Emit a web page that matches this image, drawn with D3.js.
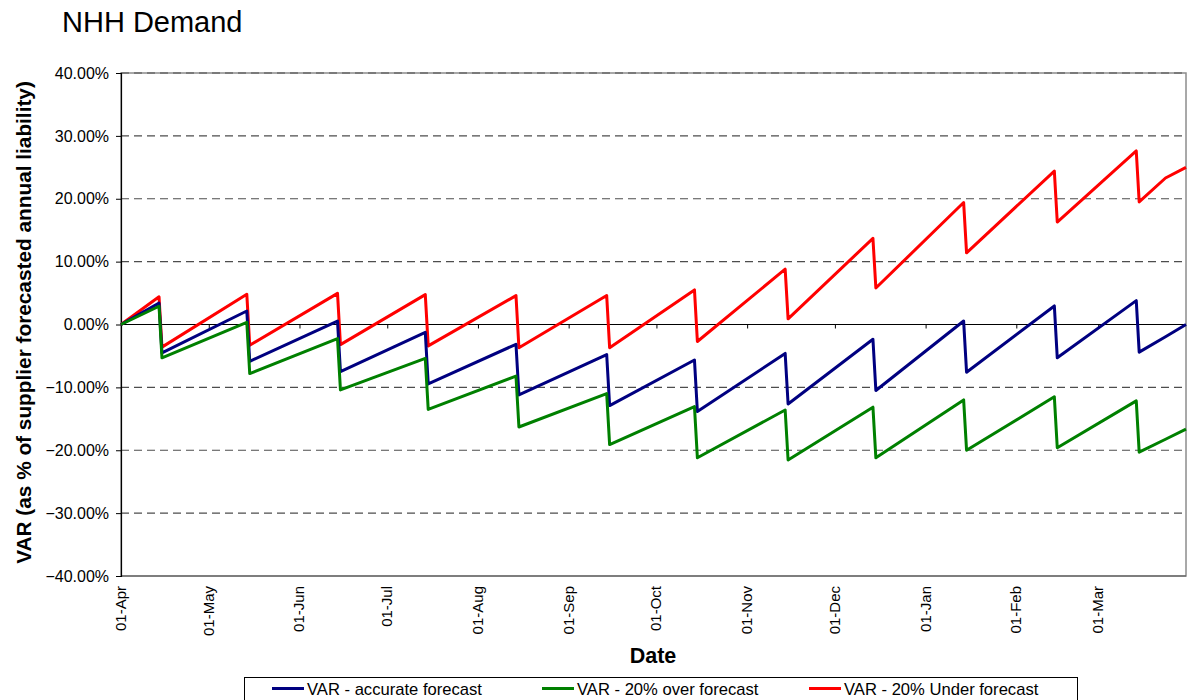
<!DOCTYPE html>
<html>
<head>
<meta charset="utf-8">
<script src="https://cdn.jsdelivr.net/npm/d3@7"></script>
<style>
  html, body { margin: 0; padding: 0; background: #fff; }
  svg { display: block; font-family: "Liberation Sans", Arial, Helvetica, sans-serif; }
</style>
</head>
<body>
<svg id="chart" width="1190" height="700"></svg>
<script>
// Daily VAR points: start of year, then the day before and the day of each monthly reset
const dates = [
  "2009-04-01",
  "2009-04-14", "2009-04-15",
  "2009-05-14", "2009-05-15",
  "2009-06-14", "2009-06-15",
  "2009-07-14", "2009-07-15",
  "2009-08-14", "2009-08-15",
  "2009-09-14", "2009-09-15",
  "2009-10-14", "2009-10-15",
  "2009-11-14", "2009-11-15",
  "2009-12-14", "2009-12-15",
  "2010-01-14", "2010-01-15",
  "2010-02-14", "2010-02-15",
  "2010-03-14", "2010-03-15",
  "2010-03-24", "2010-03-31"
];

// VAR as % of supplier forecasted annual liability
const accurateForecast = [
  0,
  3.4, -4.5,
  2.15, -5.85,
  0.55, -7.5,
  -1.25, -9.45,
  -3.15, -11.2,
  -4.8, -12.9,
  -5.65, -13.85,
  -4.6, -12.65,
  -2.35, -10.5,
  0.55, -7.6,
  2.95, -5.3,
  3.8, -4.4,
  -1.95, 0.0
];

const overForecast = [
  0,
  2.9, -5.3,
  0.35, -7.8,
  -2.25, -10.4,
  -5.4, -13.5,
  -8.2, -16.3,
  -11.0, -19.1,
  -13.05, -21.2,
  -13.6, -21.55,
  -13.15, -21.2,
  -12.0, -20.0,
  -11.5, -19.6,
  -12.15, -20.3,
  -18.25, -16.65
];

const underForecast = [
  0,
  4.4, -3.6,
  4.8, -3.3,
  4.95, -3.2,
  4.75, -3.4,
  4.6, -3.7,
  4.6, -3.7,
  5.5, -2.7,
  8.8, 0.9,
  13.7, 5.8,
  19.4, 11.4,
  24.4, 16.3,
  27.6, 19.5,
  23.3, 25.0
];

const seriesNames = ["VAR - accurate forecast", "VAR - 20% over forecast", "VAR - 20% Under forecast"];
const seriesColors = ["#000080", "#008000", "#ff0000"];
const yTicks = [40, 30, 20, 10, 0, -10, -20, -30, -40];
const monthTicks = [
  "2009-04-01", "2009-05-01", "2009-06-01", "2009-07-01", "2009-08-01", "2009-09-01",
  "2009-10-01", "2009-11-01", "2009-12-01", "2010-01-01", "2010-02-01", "2010-03-01"
];
const domainStart = "2009-04-01";
const domainEnd = "2010-03-31";

const parse = d3.utcParse("%Y-%m-%d");
const fmtTick = d3.utcFormat("%d-%b");

const plot = { left: 121, right: 1186, top: 73, bottom: 576 };

const svg = d3.select("#chart");

const x = d3.scaleUtc()
  .domain([parse(domainStart), parse(domainEnd)])
  .range([plot.left, plot.right]);

const y = d3.scaleLinear()
  .domain([-40, 40])
  .range([plot.bottom, plot.top]);

// Title
svg.append("text")
  .attr("x", 62).attr("y", 32)
  .attr("font-size", 29)
  .attr("fill", "#000")
  .text("NHH Demand");

// Plot area frame
svg.append("rect")
  .attr("x", plot.left).attr("y", plot.top)
  .attr("width", plot.right - plot.left).attr("height", plot.bottom - plot.top)
  .attr("fill", "none").attr("stroke", "#8c8c8c").attr("stroke-width", 1.5);

// Dashed gridlines
svg.append("g")
  .selectAll("line")
  .data(yTicks.filter(d => d !== 0 && d !== -40))
  .join("line")
  .attr("x1", plot.left).attr("x2", plot.right)
  .attr("y1", d => y(d)).attr("y2", d => y(d))
  .attr("stroke", "#4d4d4d").attr("stroke-width", 1.2)
  .attr("stroke-dasharray", "8,5");

// Bottom edge
svg.append("line")
  .attr("x1", plot.left).attr("x2", plot.right)
  .attr("y1", y(-40)).attr("y2", y(-40))
  .attr("stroke", "#555").attr("stroke-width", 1.2);

// Y axis
const yAxis = d3.axisLeft(y)
  .tickValues(yTicks)
  .tickSize(5)
  .tickPadding(7)
  .tickFormat(d => d3.format(".2f")(d) + "%");

const gy = svg.append("g")
  .attr("transform", `translate(${plot.left},0)`)
  .call(yAxis);
gy.select(".domain").attr("stroke", "#000").attr("stroke-width", 1.2);
gy.selectAll(".tick line").attr("stroke", "#000");
gy.selectAll(".tick text")
  .attr("font-size", 16)
  .attr("font-family", "Liberation Sans, Arial, sans-serif")
  .attr("fill", "#000");

// Zero line with month ticks
const xAxisZero = d3.axisBottom(x)
  .tickValues(monthTicks.map(parse))
  .tickSize(4)
  .tickFormat("");
const gz = svg.append("g")
  .attr("transform", `translate(0,${y(0)})`)
  .call(xAxisZero);
gz.select(".domain").attr("stroke", "#000").attr("stroke-width", 1.2).attr("d", `M${plot.left},0H${plot.right}`);
gz.selectAll(".tick line").attr("stroke", "#000");

// Month labels below the plot
const gx = svg.append("g");
gx.selectAll("text")
  .data(monthTicks.map(parse))
  .join("text")
  .attr("transform", d => `translate(${x(d) + 5},${plot.bottom + 10}) rotate(-90)`)
  .attr("text-anchor", "end")
  .attr("font-size", 15)
  .attr("fill", "#000")
  .text(d => fmtTick(d));

// Axis titles
svg.append("text")
  .attr("transform", `translate(31,${(plot.top + plot.bottom) / 2 - 2}) rotate(-90)`)
  .attr("text-anchor", "middle")
  .attr("font-size", 20.8)
  .attr("font-weight", "bold")
  .attr("fill", "#000")
  .text("VAR (as % of supplier forecasted annual liability)");

svg.append("text")
  .attr("x", 653).attr("y", 663)
  .attr("text-anchor", "middle")
  .attr("font-size", 21.5)
  .attr("font-weight", "bold")
  .attr("fill", "#000")
  .text("Date");

// Series lines
const seriesValues = [accurateForecast, overForecast, underForecast];
const parsedDates = dates.map(parse);
const line = d3.line()
  .x(d => x(d[0]))
  .y(d => y(d[1]));

const drawOrder = [2, 0, 1];
svg.append("g")
  .selectAll("path")
  .data(drawOrder)
  .join("path")
  .attr("d", i => line(parsedDates.map((dt, k) => [dt, seriesValues[i][k]])))
  .attr("fill", "none")
  .attr("stroke", i => seriesColors[i])
  .attr("stroke-width", 3)
  .attr("stroke-linejoin", "round");

// Legend
const legend = svg.append("g");
legend.append("rect")
  .attr("x", 244.5).attr("y", 677.5)
  .attr("width", 833).attr("height", 40)
  .attr("fill", "#fff").attr("stroke", "#000").attr("stroke-width", 1);

const legendX = [272, 542, 809];
seriesNames.forEach((name, i) => {
  legend.append("line")
    .attr("x1", legendX[i]).attr("x2", legendX[i] + 32)
    .attr("y1", 688.5).attr("y2", 688.5)
    .attr("stroke", seriesColors[i]).attr("stroke-width", 3);
  legend.append("text")
    .attr("x", legendX[i] + 35).attr("y", 695)
    .attr("font-size", 16.6)
    .attr("fill", "#000")
    .text(name);
});
</script>
</body>
</html>
